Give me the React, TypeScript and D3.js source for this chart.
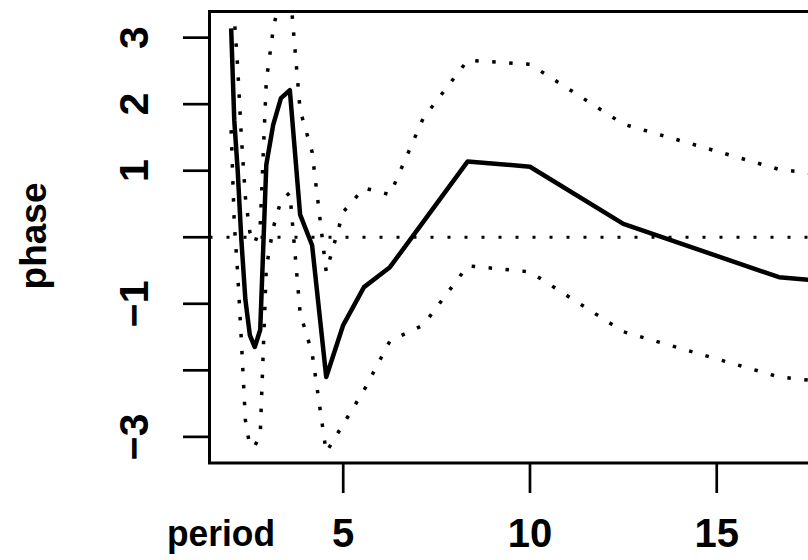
import React from "react";
import * as d3 from "d3";

// Periods of the Fourier frequencies and the estimated phase with its bounds
const periods = [2, 2.083, 2.174, 2.273, 2.381, 2.5, 2.632, 2.778, 2.941, 3.125, 3.333, 3.571, 3.846, 4.167, 4.545, 5, 5.556, 6.25, 7.143, 8.333, 10, 12.5, 16.667, 25];
const phase = [3.14, 1.76, 1.01, -0.04, -0.94, -1.47, -1.65, -1.39, 1.09, 1.69, 2.09, 2.21, 0.34, -0.12, -2.1, -1.32, -0.75, -0.45, 0.23, 1.14, 1.06, 0.2, -0.6, -1.0];
const upper = [4.7, 3.3, 2.56, 1.51, 0.6, 0.08, -0.09, 0.17, 2.35, 3.12, 3.7, 3.75, 1.91, 1.28, -0.52, 0.38, 0.74, 0.64, 1.79, 2.66, 2.6, 1.7, 1.02, 0.45];
const lower = [1.61, 0.21, -0.54, -1.55, -2.75, -3.14, -3.14, -2.97, -0.46, 0.14, 0.55, 0.67, -1.14, -1.74, -3.23, -2.81, -2.3, -1.56, -1.32, -0.43, -0.52, -1.42, -2.1, -2.6];

const xTicks = [5, 10, 15];
const yTicks = [-3, -2, -1, 0, 1, 2, 3];
const yTickLabels = ["−3", "", "−1", "", "1", "2", "3"];

const W = 808;
const H = 560;
const box = { left: 209.5, top: 11.5, bottom: 463, right: 840 };

export default function App() {
  const x = d3.scaleLinear().domain([1.42, 18.3]).range([box.left, box.right]);
  const y = d3.scaleLinear().domain([-3.393, 3.393]).range([box.bottom, box.top]);

  const line = (vals: number[]) =>
    d3.line<number>()
      .x((_, i) => x(periods[i]))
      .y((v) => y(v))(vals) as string;

  const font = "'Liberation Sans', Arial, Helvetica, sans-serif";

  return (
    <svg width={W} height={H} style={{ position: "absolute", left: 0, top: 0, background: "#fff" }}>
      <defs>
        <clipPath id="plotArea">
          <rect x={box.left} y={box.top} width={box.right - box.left} height={box.bottom - box.top} />
        </clipPath>
      </defs>
      <rect x={0} y={0} width={W} height={H} fill="#fff" />

      <g clipPath="url(#plotArea)" fill="none" stroke="#000">
        <line x1={box.left} x2={box.right} y1={y(0)} y2={y(0)} strokeWidth={3} strokeDasharray="3 14" />
        <path d={line(upper)} strokeWidth={3.5} strokeDasharray="3.5 13.5" />
        <path d={line(lower)} strokeWidth={3.5} strokeDasharray="3.5 13.5" />
        <path d={line(phase)} strokeWidth={4.5} strokeLinejoin="round" />
      </g>

      {/* plot frame */}
      <path
        d={`M${box.right},${box.top}H${box.left}V${box.bottom}H${box.right}`}
        fill="none"
        stroke="#000"
        strokeWidth={3}
      />

      {/* y axis */}
      <g stroke="#000" strokeWidth={2.7}>
        {yTicks.map((t) => (
          <line key={t} x1={183} x2={box.left} y1={y(t)} y2={y(t)} />
        ))}
      </g>
      {yTickLabels.map((lab, i) =>
        lab ? (
          <text
            key={yTicks[i]}
            transform={`translate(148,${y(yTicks[i])}) rotate(-90)`}
            textAnchor="middle"
            fontFamily={font}
            fontWeight="bold"
            fontSize={41}
          >
            {lab}
          </text>
        ) : null
      )}

      {/* x axis */}
      <g stroke="#000" strokeWidth={2.7}>
        {xTicks.map((t) => (
          <line key={t} x1={x(t)} x2={x(t)} y1={box.bottom} y2={box.bottom + 30} />
        ))}
      </g>
      {xTicks.map((t) => (
        <text key={t} x={x(t)} y={547} textAnchor="middle" fontFamily={font} fontWeight="bold" fontSize={40}>
          {t}
        </text>
      ))}

      <text x={167} y={546} fontFamily={font} fontWeight="bold" fontSize={36} textLength={108} lengthAdjust="spacingAndGlyphs">
        period
      </text>
      <text
        transform={`translate(46,236) rotate(-90)`}
        textAnchor="middle"
        fontFamily={font}
        fontWeight="bold"
        fontSize={37}
      >
        phase
      </text>
    </svg>
  );
}
